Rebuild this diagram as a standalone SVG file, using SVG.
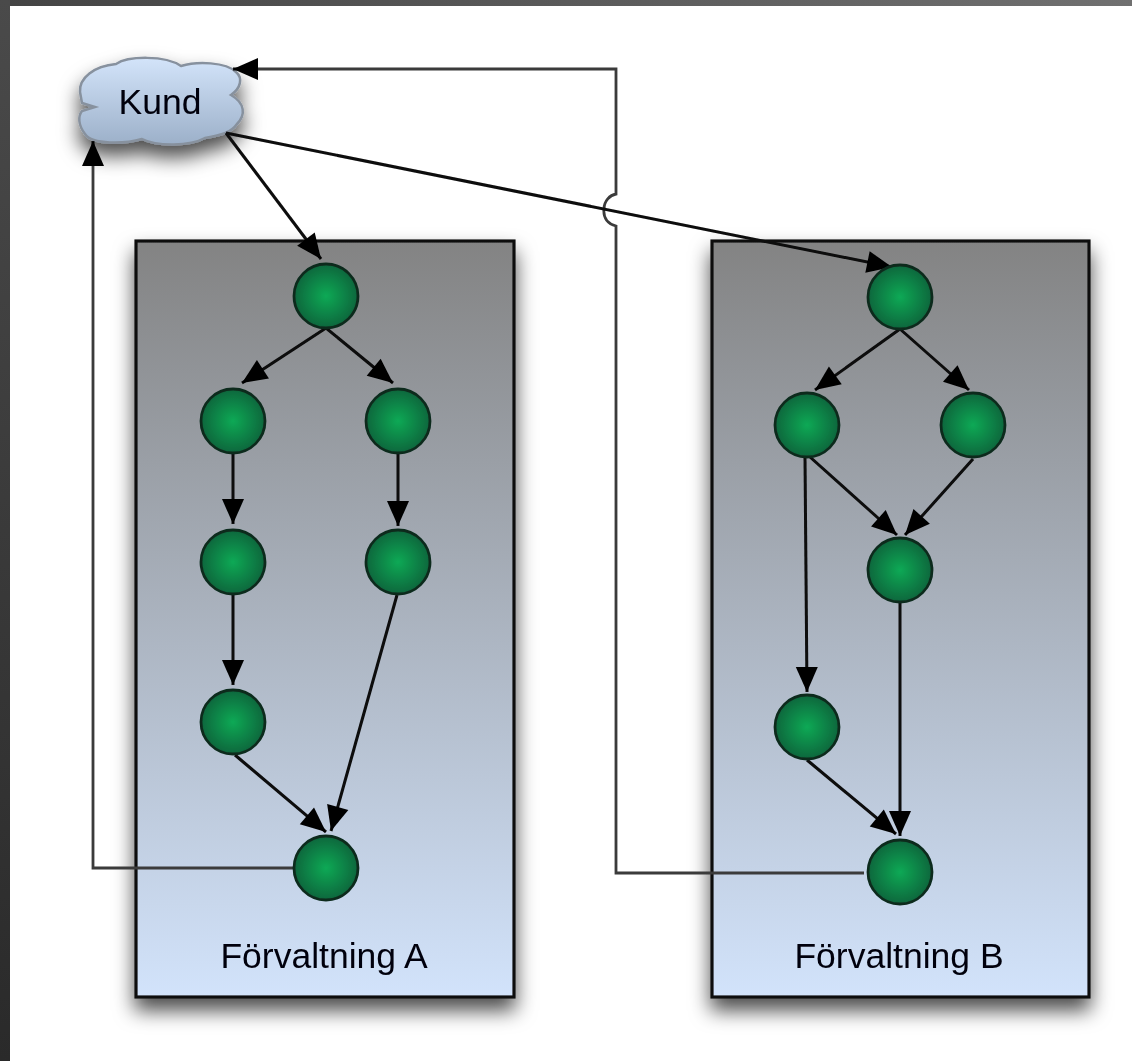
<svg xmlns="http://www.w3.org/2000/svg" width="1132" height="1061" viewBox="0 0 1132 1061">
<style>
.lane{fill:url(#laneFill);stroke:#111;stroke-width:3.2;filter:url(#shadow)}
.node{fill:url(#nodeFill);stroke:#0b2c1e;stroke-width:2.8}
.conn{fill:none;stroke:#0a0a0a;stroke-width:3;marker-end:url(#arrow)}
.route{fill:none;stroke:#3a3a3a;stroke-width:2.8}
.label{font-family:"Liberation Sans",Arial,sans-serif;font-size:35.5px;fill:#05050f;text-anchor:middle}
</style>
<defs>
<linearGradient id="laneFill" x1="0" y1="0" x2="0" y2="1"><stop offset="0" stop-color="#838383"/><stop offset="1" stop-color="#d2e3fb"/></linearGradient>
<linearGradient id="cloudFill" x1="0" y1="0" x2="0" y2="1"><stop offset="0" stop-color="#d3e4fa"/><stop offset="1" stop-color="#9cb0c9"/></linearGradient>
<linearGradient id="topBar" x1="0" y1="0" x2="1" y2="0"><stop offset="0" stop-color="#444"/><stop offset="1" stop-color="#707070"/></linearGradient>
<linearGradient id="leftBar" x1="0" y1="0" x2="0" y2="1"><stop offset="0" stop-color="#4a4a4a"/><stop offset="1" stop-color="#2a2a2a"/></linearGradient>
<radialGradient id="nodeFill" cx="0.5" cy="0.5" r="0.55"><stop offset="0" stop-color="#08a955"/><stop offset="1" stop-color="#12603a"/></radialGradient>
<filter id="shadow" x="-40%" y="-40%" width="180%" height="180%"><feDropShadow dx="0" dy="12" stdDeviation="10" flood-color="#000" flood-opacity="0.7"/></filter>
<filter id="soft" filterUnits="userSpaceOnUse" x="0" y="0" width="1132" height="1061"><feGaussianBlur stdDeviation="0.6"/></filter>
<marker id="arrow" markerUnits="userSpaceOnUse" markerWidth="28" markerHeight="26" refX="26" refY="12" orient="auto"><path d="M1,1 L26,12 L1,23 Z" fill="#000"/></marker>
</defs>
<rect width="1132" height="1061" fill="#fff"/>
<g filter="url(#soft)">
<g id="lane-a"><rect class="lane" x="136" y="241" width="378" height="756"/><text class="label" x="324" y="968">Förvaltning A</text></g>
<g id="lane-b"><rect class="lane" x="712" y="241" width="377" height="756"/><text class="label" x="899" y="968">Förvaltning B</text></g>
<g id="kund">
<path d="M80,92 C79,78 94,66 116,64 C128,56 165,55 181,66 C197,61 226,62 236,72 C243,78 241,88 231,95 C245,103 246,115 237,124 C231,133 221,135 205,138 C190,146 158,147 142,139 C125,144 92,145 85,134 C78,125 78,116 82,111 L95,107 L82,103 Z" fill="url(#cloudFill)" stroke="#87919e" stroke-width="2.5" filter="url(#shadow)"/>
<text class="label" x="160" y="114">Kund</text>
</g>
<g id="connectors">
<path class="route" d="M294,868 H93 V165"/>
<path class="conn" d="M93,165 V141"/>
<path class="route" d="M864,873 H616 V226 C608,224 603,218 604,209 C604,201 610,195 616,194 V69 H256"/>
<path class="conn" d="M256,69 H233"/>
<path class="conn" d="M226,133 L321,259"/>
<path class="conn" d="M226,133 L892,267"/>
<path class="conn" d="M326,328 L242,383"/>
<path class="conn" d="M326,328 L393,383"/>
<path class="conn" d="M233,454 V524"/>
<path class="conn" d="M398,454 V526"/>
<path class="conn" d="M233,595 V685"/>
<path class="conn" d="M397,595 L331,831"/>
<path class="conn" d="M235,755 L326,832"/>
<path class="conn" d="M900,329 L815,390"/>
<path class="conn" d="M900,329 L969,390"/>
<path class="conn" d="M810,457 L897,535"/>
<path class="conn" d="M973,459 L905,535"/>
<path class="conn" d="M805,457 L807,692"/>
<path class="conn" d="M900,603 V836"/>
<path class="conn" d="M807,760 L896,834"/>
</g>
<g id="a1"><circle class="node" cx="326" cy="296" r="32"/></g>
<g id="a2"><circle class="node" cx="233" cy="421" r="32"/></g>
<g id="a3"><circle class="node" cx="398" cy="421" r="32"/></g>
<g id="a4"><circle class="node" cx="233" cy="562" r="32"/></g>
<g id="a5"><circle class="node" cx="398" cy="562" r="32"/></g>
<g id="a6"><circle class="node" cx="233" cy="722" r="32"/></g>
<g id="a7"><circle class="node" cx="326" cy="868" r="32"/></g>
<g id="b1"><circle class="node" cx="900" cy="297" r="32"/></g>
<g id="b2"><circle class="node" cx="807" cy="425" r="32"/></g>
<g id="b3"><circle class="node" cx="973" cy="425" r="32"/></g>
<g id="b4"><circle class="node" cx="900" cy="570" r="32"/></g>
<g id="b5"><circle class="node" cx="807" cy="727" r="32"/></g>
<g id="b6"><circle class="node" cx="900" cy="872" r="32"/></g>
</g>
<rect width="1132" height="6" fill="url(#topBar)"/>
<rect width="10" height="1061" fill="url(#leftBar)"/>
</svg>
